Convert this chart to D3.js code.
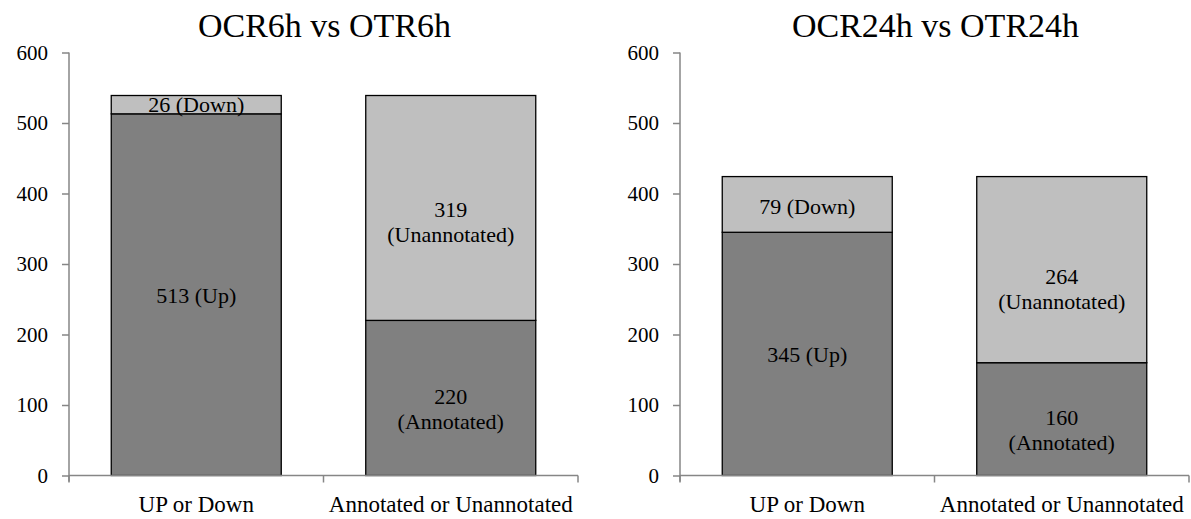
<!DOCTYPE html>
<html><head><meta charset="utf-8">
<script src="https://cdn.jsdelivr.net/npm/d3@7"></script>
<style>body{margin:0;background:#fff}svg{display:block}</style>
</head><body>
<svg id="chart" width="1191" height="519"></svg>
<script>
const panelTitles = ["OCR6h vs OTR6h", "OCR24h vs OTR24h"];
const categories = ["UP or Down", "Annotated or Unannotated"];
// bottom segment values (Up / Annotated) and top segment values (Down / Unannotated)
const bottomValues6h = [513, 220];
const topValues6h = [26, 319];
const bottomValues24h = [345, 160];
const topValues24h = [79, 264];
const bottomNames = ["Up", "Annotated"];
const topNames = ["Down", "Unannotated"];
const yTicks = [0, 100, 200, 300, 400, 500, 600];

const panels = [
  {title: panelTitles[0], bottom: bottomValues6h, top: topValues6h},
  {title: panelTitles[1], bottom: bottomValues24h, top: topValues24h}
];

const svg = d3.select("#chart");
const FONT = "'Liberation Serif','Times New Roman',serif";
const panelX = [69, 680];
const plotW = 509;
const y = d3.scaleLinear().domain([0, 600]).range([475.5, 52.5]);

// vertical nudges of label block centres relative to segment centres (layout only)
const labelNudge = [
  {bottom: [1, 11], top: [0, 14]},
  {bottom: [1, 11], top: [2, 19]}
];

panels.forEach((p, pi) => {
  const g = svg.append("g").attr("transform", `translate(${panelX[pi]},0)`);
  const x = d3.scaleBand().domain(categories).range([0, plotW])
    .paddingInner(0.332).paddingOuter(0.166);

  g.append("text").attr("x", plotW / 2 + 1).attr("y", 37)
    .attr("text-anchor", "middle").attr("font-family", FONT)
    .attr("font-size", 34).attr("fill", "#000").text(p.title);

  const yAx = g.append("g").call(d3.axisLeft(y).tickValues(yTicks).tickSize(7).tickPadding(14));
  yAx.select(".domain").attr("stroke", "#868686").attr("stroke-width", 1.5)
    .attr("d", `M0,${y(600)}V${y(0) + 6}`);
  yAx.selectAll(".tick line").attr("stroke", "#868686").attr("stroke-width", 1.5);
  yAx.selectAll("text").attr("font-family", FONT).attr("font-size", 21).attr("fill", "#000");

  categories.forEach((c, ci) => {
    const b = p.bottom[ci], t = p.top[ci];
    g.append("rect").attr("x", x(c)).attr("width", x.bandwidth())
      .attr("y", y(b)).attr("height", y(0) - y(b))
      .attr("fill", "#808080").attr("stroke", "#000").attr("stroke-width", 1.3);
    g.append("rect").attr("x", x(c)).attr("width", x.bandwidth())
      .attr("y", y(b + t)).attr("height", y(b) - y(b + t))
      .attr("fill", "#bfbfbf").attr("stroke", "#000").attr("stroke-width", 1.3);
  });

  categories.forEach((c, ci) => {
    const cx = x(c) + x.bandwidth() / 2;
    const b = p.bottom[ci], t = p.top[ci];
    const segs = [
      {val: b, name: bottomNames[ci], mid: y(b / 2), nud: labelNudge[pi].bottom[ci]},
      {val: t, name: topNames[ci], mid: y(b + t / 2), nud: labelNudge[pi].top[ci]}
    ];
    segs.forEach(s => {
      const cy = s.mid + s.nud;
      if (ci === 0) {
        g.append("text").attr("x", cx).attr("y", cy + 7.5)
          .attr("text-anchor", "middle").attr("font-family", FONT)
          .attr("font-size", 22).attr("fill", "#000")
          .text(`${s.val} (${s.name})`);
      } else {
        const tx = g.append("text").attr("text-anchor", "middle")
          .attr("font-family", FONT).attr("font-size", 22).attr("fill", "#000");
        tx.append("tspan").attr("x", cx).attr("y", cy - 5).text(s.val);
        tx.append("tspan").attr("x", cx).attr("y", cy + 20).text(`(${s.name})`);
      }
    });
  });

  const xAx = g.append("g").attr("transform", `translate(0,${y(0)})`)
    .call(d3.axisBottom(x).tickSize(0).tickSizeOuter(0));
  xAx.select(".domain").attr("stroke", "#868686").attr("stroke-width", 1.5)
    .attr("d", `M0,0H${plotW}`);
  xAx.selectAll("text").attr("font-family", FONT).attr("font-size", 23).attr("fill", "#000")
    .attr("y", 36.5).attr("dy", 0);
  [0, plotW / 2, plotW].forEach(tx => {
    xAx.append("line").attr("x1", tx).attr("x2", tx).attr("y1", 0).attr("y2", 7)
      .attr("stroke", "#868686").attr("stroke-width", 1.5);
  });
});
</script>
</body></html>
